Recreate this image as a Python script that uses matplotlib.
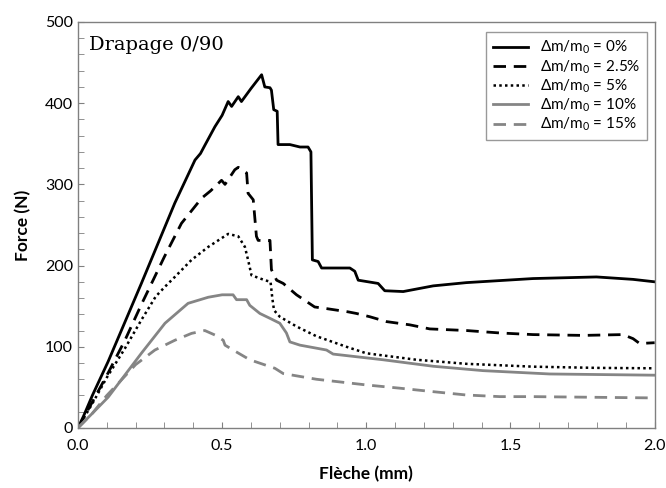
import matplotlib
matplotlib.use("Agg")
import matplotlib.pyplot as plt
from matplotlib.ticker import MultipleLocator

plt.rcParams['font.family'] = ['Lato', 'DejaVu Sans']
plt.rcParams['mathtext.fontset'] = 'custom'
plt.rcParams['mathtext.rm'] = 'Lato'
plt.rcParams['mathtext.it'] = 'Lato'

labels = ["Δm/m$_0$ = 0%", "Δm/m$_0$ = 2.5%", "Δm/m$_0$ = 5%",
          "Δm/m$_0$ = 10%", "Δm/m$_0$ = 15%"]

# 0 %
x0 = [0, 0.02, 0.05, 0.105, 0.22, 0.336, 0.406, 0.425, 0.44, 0.475, 0.50, 0.521, 0.533,
      0.556, 0.567, 0.60, 0.637, 0.648, 0.666, 0.671, 0.679, 0.691, 0.694, 0.735, 0.77,
      0.798, 0.808, 0.813, 0.833, 0.845, 0.943, 0.96, 0.972, 1.041, 1.064, 1.128, 1.232,
      1.347, 1.578, 1.798, 1.925, 2.0]
y0 = [0, 15, 40, 82, 178, 277, 330, 338, 348, 371, 385, 402, 396,
      408, 402, 418, 435, 420, 419, 416, 392, 390, 349, 349, 346,
      346, 340, 207, 205, 197, 197, 193, 182, 178, 169, 168, 175,
      179, 184, 186, 183, 180]

# 2.5 %
x1 = [0, 0.05, 0.105, 0.163, 0.22, 0.30, 0.359, 0.429, 0.46, 0.498, 0.51, 0.544, 0.556,
      0.585, 0.59, 0.608, 0.619, 0.625, 0.666, 0.671, 0.689, 0.712, 0.758, 0.821, 0.862,
      0.937, 0.966, 1.012, 1.07, 1.151, 1.22, 1.347, 1.463, 1.578, 1.752, 1.89, 1.925,
      1.948, 2.0]
y1 = [0, 32, 68, 108, 152, 211, 252, 283, 292, 305, 300, 318, 321,
      314, 289, 281, 236, 231, 231, 195, 182, 178, 164, 149, 147,
      143, 141, 137, 131, 127, 122, 120, 117, 115, 114, 115, 110,
      104, 105]

# 5 %
x2 = [0, 0.05, 0.10, 0.163, 0.22, 0.27, 0.302, 0.336, 0.394, 0.452, 0.521, 0.556, 0.579,
      0.59, 0.602, 0.648, 0.668, 0.674, 0.68, 0.70, 0.758, 0.827, 0.931, 1.0, 1.174,
      1.347, 1.578, 1.8, 2.0]
y2 = [0, 30, 62, 98, 133, 162, 174, 186, 207, 223, 239, 236, 223,
      207, 188, 182, 180, 160, 145, 137, 125, 113, 100, 92, 84,
      79, 75.5, 74, 73.5]

# 10 %
x3 = [0, 0.05, 0.105, 0.22, 0.302, 0.382, 0.452, 0.50, 0.538, 0.55, 0.585, 0.596, 0.631,
      0.666, 0.70, 0.723, 0.735, 0.77, 0.862, 0.885, 1.058, 1.232, 1.405, 1.636, 2.0]
y3 = [0, 18, 38, 92, 129, 153.5, 161, 164, 164, 158, 158, 151, 141,
      135, 129, 117, 106, 102, 96, 91, 84, 76, 70.6, 66.5, 65]

# 15 %
x4 = [0, 0.05, 0.10, 0.14, 0.2, 0.267, 0.336, 0.394, 0.44, 0.475, 0.504, 0.51, 0.538,
      0.596, 0.683, 0.712, 0.827, 1.0, 1.116, 1.232, 1.347, 1.463, 1.578, 2.0]
y4 = [0, 18, 40, 55, 78, 96, 108, 116.5, 120, 114.5, 108, 102, 96,
      84, 73.5, 67, 60, 53, 49, 44.7, 40.6, 38.6, 38.6, 37]

grey = '#858585'

fig = plt.figure(figsize=(6.66, 4.88), dpi=100)
ax = fig.add_axes([0.117, 0.123, 0.866, 0.832])

ax.plot(x0, y0, color='black', lw=2.0, label=labels[0])
ax.plot(x1, y1, color='black', lw=2.0, dashes=(4.5, 2.8), label=labels[1])
ax.plot(x2, y2, color='black', lw=1.8, dashes=(1, 1.3), label=labels[2])
ax.plot(x3, y3, color=grey, lw=2.0, label=labels[3])
ax.plot(x4, y4, color=grey, lw=2.0, dashes=(4.5, 2.8), label=labels[4])

ax.set_xlim(0, 2.0)
ax.set_ylim(0, 500)
ax.xaxis.set_major_locator(MultipleLocator(0.5))
ax.xaxis.set_minor_locator(MultipleLocator(0.1))
ax.yaxis.set_major_locator(MultipleLocator(100))
ax.yaxis.set_minor_locator(MultipleLocator(20))
ax.xaxis.set_major_formatter(lambda v, p: f"{v:.1f}")
ax.tick_params(which='both', direction='in', length=4, color='#808080', labelsize=11.5)
ax.tick_params(axis='x', pad=8)
for s in ax.spines.values():
    s.set_color('#808080')
    s.set_linewidth(1.0)

ax.set_xlabel("Flèche (mm)", fontsize=12.5, fontweight='bold', labelpad=9)
ax.set_ylabel("Force (N)", fontsize=12.5, fontweight='bold', labelpad=10)

ax.text(0.02, 0.965, "Drapage 0/90", transform=ax.transAxes, family='DejaVu Serif',
        fontsize=14, va='top', ha='left')

leg = ax.legend(loc='upper left', bbox_to_anchor=(0.707, 0.975), borderaxespad=0,
                fontsize=11, frameon=True, fancybox=False, handlelength=2.3,
                labelspacing=0.12, borderpad=0.45, handletextpad=0.8)
leg.get_frame().set_edgecolor('#808080')
leg.get_frame().set_linewidth(1.0)

fig.savefig("out.png", dpi=100)
